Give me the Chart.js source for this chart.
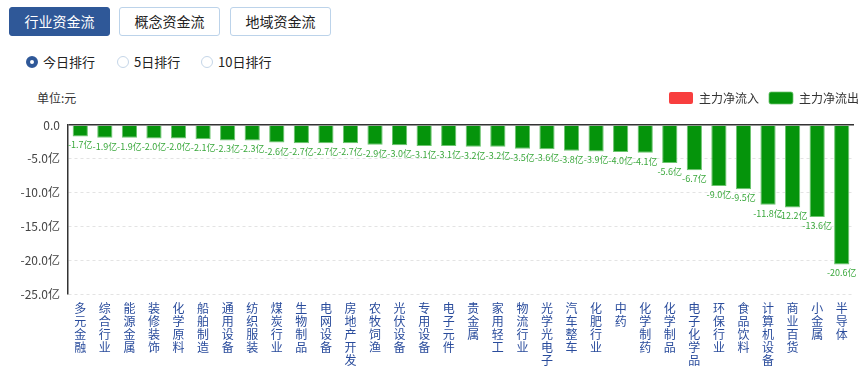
<!DOCTYPE html>
<html lang="zh">
<head>
    <meta charset="UTF-8">
    <title>行业资金流</title>
    <script src="https://cdnjs.cloudflare.com/ajax/libs/Chart.js/4.4.1/chart.umd.min.js"></script>
    <style>
        * { font-family: "Noto Sans CJK SC", "Noto Sans", sans-serif; box-sizing: border-box; }
        body { margin: 0; width: 864px; height: 370px; background: #fff; position: relative; overflow: hidden; }

        .tab {
            position: absolute; top: 7px; height: 29px; width: 101px;
            border: 1px solid #bcd3ea; border-radius: 3px;
            font-size: 14px; line-height: 27px; text-align: center; color: #222; background: #fff;
        }
        .tab.active { background: #2f5898; border-color: #2f5898; color: #fff; }

        .radio { position: absolute; top: 53px; font-size: 13px; line-height: 18px; color: #222; }
        .radio i {
            position: absolute; left: 0; top: 3px; width: 12px; height: 12px;
            border: 1px solid #c5d6e8; border-radius: 50%; background: #fff;
        }
        .radio.on i { border: 4px solid #2f5898; }
        .radio span { margin-left: 17px; }

        .unit { position: absolute; left: 37px; top: 89px; font-size: 12px; color: #333; }
        #wrap { position: absolute; left: 0; top: 85px; width: 864px; height: 290px; }
    </style>
</head>
<body>
    <div class="tab active" style="left:9px">行业资金流</div>
    <div class="tab" style="left:119px">概念资金流</div>
    <div class="tab" style="left:230px">地域资金流</div>

    <div class="radio on" style="left:26px"><i></i><span>今日排行</span></div>
    <div class="radio" style="left:117px"><i></i><span>5日排行</span></div>
    <div class="radio" style="left:201px"><i></i><span>10日排行</span></div>

    <div class="unit">单位:元</div>
    <div id="wrap"><canvas id="flowChart"></canvas></div>

    <script>
        const industries = ["多元金融", "综合行业", "能源金属", "装修装饰", "化学原料", "船舶制造", "通用设备", "纺织服装",
            "煤炭行业", "生物制品", "电网设备", "房地产开发", "农牧饲渔", "光伏设备", "专用设备", "电子元件",
            "贵金属", "家用轻工", "物流行业", "光学光电子", "汽车整车", "化肥行业", "中药", "化学制药",
            "化学制品", "电子化学品", "环保行业", "食品饮料", "计算机设备", "商业百货", "小金属", "半导体"];
        // 亿元
        const outflow = [-1.7, -1.9, -1.9, -2.0, -2.0, -2.1, -2.3, -2.3, -2.6, -2.7, -2.7, -2.7, -2.9, -3.0, -3.1, -3.1,
            -3.2, -3.2, -3.5, -3.6, -3.8, -3.9, -4.0, -4.1, -5.6, -6.7, -9.0, -9.5, -11.8, -12.2, -13.6, -20.6];
        const inflow = industries.map(() => null);
        const yTicks = [0, -5, -10, -15, -20, -25];

        // value labels under each bar
        const valueLabels = {
            id: "valueLabels",
            afterDatasetsDraw(chart) {
                const ctx = chart.ctx;
                const meta = chart.getDatasetMeta(1);
                ctx.save();
                ctx.font = "9px 'Noto Sans CJK SC'";
                ctx.fillStyle = "#3aa83c";
                ctx.textAlign = "center";
                ctx.textBaseline = "top";
                meta.data.forEach((bar, i) => {
                    ctx.fillText(outflow[i].toFixed(1) + "亿", bar.x, bar.y + 4);
                });
                ctx.restore();
            }
        };

        // legend sits a bit higher and further right than chart.js puts it
        const legendTweak = {
            id: "legendTweak",
            beforeInit(chart) {
                const lg = chart.legend;
                const fit = lg.fit, draw = lg.draw;
                lg.fit = function () { fit.call(this); this.height += 8; };
                lg.draw = function () {
                    chart.ctx.save();
                    chart.ctx.translate(15, -3);
                    draw.call(this);
                    chart.ctx.restore();
                };
            }
        };

        new Chart(document.getElementById("flowChart"), {
            type: "bar",
            data: {
                labels: industries,
                datasets: [
                    { label: "主力净流入", data: inflow, backgroundColor: "#f83e3e" },
                    { label: "主力净流出", data: outflow, backgroundColor: "#05940b", borderColor: "#6cc46f", borderWidth: { left: 1, right: 1, top: 0, bottom: 1 } }
                ]
            },
            options: {
                responsive: true,
                maintainAspectRatio: false,
                animation: false,
                grouped: false,
                barPercentage: 0.62,
                categoryPercentage: 1,
                layout: { padding: { left: 0, right: 10, top: 0, bottom: 0 } },
                plugins: {
                    tooltip: { enabled: false },
                    legend: {
                        position: "top",
                        align: "end",
                        labels: {
                            boxWidth: 24, boxHeight: 12, padding: 10,
                            color: "#333", font: { size: 12, family: "'Noto Sans CJK SC'" },
                            useBorderRadius: true, borderRadius: 2
                        }
                    }
                },
                scales: {
                    x: {
                        grid: { display: false, drawTicks: false },
                        border: { display: false },
                        ticks: {
                            autoSkip: false, maxRotation: 0, padding: 8,
                            color: "#2a4c9c",
                            font: { size: 12, family: "'Noto Sans CJK SC'", lineHeight: 1.08 },
                            callback: function (v, i) { return industries[i].split(""); }
                        }
                    },
                    y: {
                        min: -25, max: 0,
                        afterBuildTicks: function (scale) { scale.ticks = yTicks.map(v => ({ value: v })); },
                        afterFit: function (scale) { scale.width = 68; },
                        grid: {
                            drawTicks: false,
                            color: ctx => ctx.tick && ctx.tick.value === 0 ? "#333" : "#e3e3e3",
                            lineWidth: ctx => ctx.tick && ctx.tick.value === 0 ? 1.5 : 1
                        },
                        border: { color: "#333", width: 1.5, dash: ctx => ctx.tick && ctx.tick.value === 0 ? [] : [3, 3] },
                        ticks: {
                            padding: 8, color: "#444",
                            font: { size: 12, family: "'Noto Sans CJK SC'" },
                            callback: v => v === 0 ? "0.0" : v.toFixed(1) + "亿"
                        }
                    }
                }
            },
            plugins: [valueLabels, legendTweak]
        });
    </script>
</body>
</html>
